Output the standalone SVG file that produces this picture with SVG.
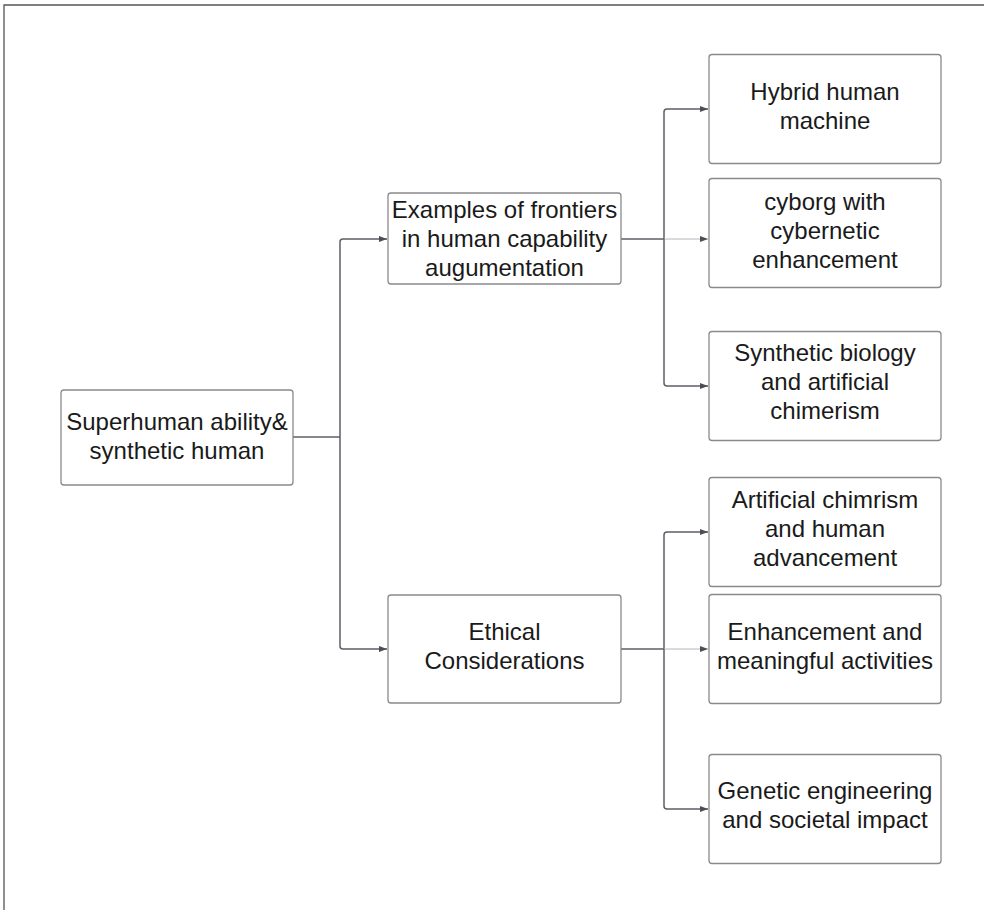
<svg xmlns="http://www.w3.org/2000/svg" width="984" height="910" viewBox="0 0 984 910">
  <style>
    .box { fill: #ffffff; stroke: #8a8a8e; stroke-width: 1.3; }
    .label { font-family: "Liberation Sans", Arial, sans-serif; font-size: 24px; fill: #1a1a1a; text-anchor: middle; }
    .wire { fill: none; stroke: #5c5f66; stroke-width: 1.5; }
    .wire-thin { fill: none; stroke: #b4b6ba; stroke-width: 1; }
    .frame { fill: none; stroke: #555555; stroke-width: 1.3; }
  </style>
  <defs>
    <marker id="arrow" markerWidth="8" markerHeight="6" refX="8" refY="3" orient="auto" markerUnits="userSpaceOnUse">
      <path d="M0,0 L8,3 L0,6 Z" fill="#4a4e57"/>
    </marker>
  </defs>

  <rect width="984" height="910" fill="#ffffff"/>
  <!-- page frame -->
  <path class="frame" d="M4,910 V5 H984"/>

  <!-- connectors -->
  <g id="connectors">
    <path class="wire" d="M293,437 H340"/>
    <path class="wire" d="M340,437 V242 Q340,239 343,239 H387" marker-end="url(#arrow)"/>
    <path class="wire" d="M340,437 V646 Q340,649 343,649 H387" marker-end="url(#arrow)"/>

    <path class="wire" d="M621,239 H664"/>
    <path class="wire" d="M664,239 V112 Q664,109 667,109 H708" marker-end="url(#arrow)"/>
    <path class="wire-thin" d="M664,239 H708" marker-end="url(#arrow)"/>
    <path class="wire" d="M664,239 V383 Q664,386 667,386 H708" marker-end="url(#arrow)"/>

    <path class="wire" d="M621,649 H664"/>
    <path class="wire" d="M664,649 V535 Q664,532 667,532 H708" marker-end="url(#arrow)"/>
    <path class="wire-thin" d="M664,649 H708" marker-end="url(#arrow)"/>
    <path class="wire" d="M664,649 V806 Q664,809 667,809 H708" marker-end="url(#arrow)"/>
  </g>

  <g id="root">
    <rect class="box" x="61" y="390" width="232" height="95" rx="3"/>
    <text class="label" x="177" y="430">Superhuman ability&amp;</text>
    <text class="label" x="177" y="459">synthetic human</text>
  </g>

  <g id="frontiers">
    <rect class="box" x="388" y="193" width="233" height="91" rx="3"/>
    <text class="label" x="504.5" y="218">Examples of frontiers</text>
    <text class="label" x="504.5" y="247">in human capability</text>
    <text class="label" x="504.5" y="276">augumentation</text>
  </g>

  <g id="ethics">
    <rect class="box" x="388" y="595" width="233" height="108" rx="3"/>
    <text class="label" x="504.5" y="640">Ethical</text>
    <text class="label" x="504.5" y="669">Considerations</text>
  </g>

  <g id="hybrid">
    <rect class="box" x="709" y="54.5" width="232" height="109" rx="3"/>
    <text class="label" x="825" y="100">Hybrid human</text>
    <text class="label" x="825" y="129">machine</text>
  </g>

  <g id="cyborg">
    <rect class="box" x="709" y="178.5" width="232" height="109" rx="3"/>
    <text class="label" x="825" y="210">cyborg with</text>
    <text class="label" x="825" y="239">cybernetic</text>
    <text class="label" x="825" y="268">enhancement</text>
  </g>

  <g id="synthetic-biology">
    <rect class="box" x="709" y="331.5" width="232" height="109" rx="3"/>
    <text class="label" x="825" y="361">Synthetic biology</text>
    <text class="label" x="825" y="390">and artificial</text>
    <text class="label" x="825" y="419">chimerism</text>
  </g>

  <g id="chimrism">
    <rect class="box" x="709" y="477.5" width="232" height="109" rx="3"/>
    <text class="label" x="825" y="508">Artificial chimrism</text>
    <text class="label" x="825" y="537">and human</text>
    <text class="label" x="825" y="566">advancement</text>
  </g>

  <g id="enhancement">
    <rect class="box" x="709" y="594.5" width="232" height="109" rx="3"/>
    <text class="label" x="825" y="640">Enhancement and</text>
    <text class="label" x="825" y="669">meaningful activities</text>
  </g>

  <g id="genetic">
    <rect class="box" x="709" y="754.5" width="232" height="109" rx="3"/>
    <text class="label" x="825" y="799">Genetic engineering</text>
    <text class="label" x="825" y="828">and societal impact</text>
  </g>
</svg>
